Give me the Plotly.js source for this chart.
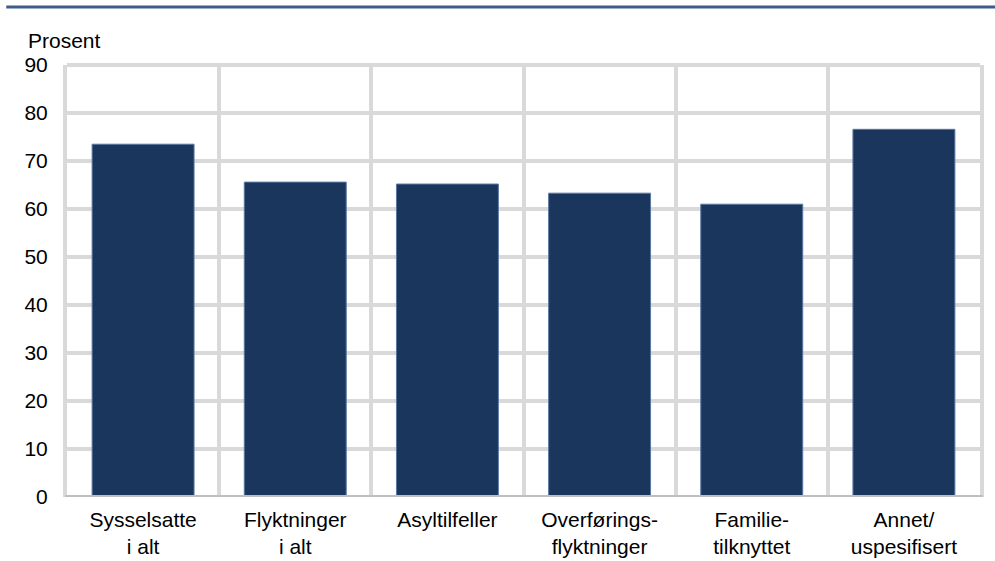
<!DOCTYPE html>
<html>
<head>
<meta charset="utf-8">
<script src="https://cdn.plot.ly/plotly-3.0.1.min.js"></script>
<style>html,body{margin:0;padding:0;background:#fff;}#chart{width:995px;height:561px;}</style>
</head>
<body>
<div id="chart"></div>
<script>
const categories = ["Sysselsatte<br>i alt", "Flyktninger<br>i alt", "Asyltilfeller", "Overførings-<br>flyktninger", "Familie-<br>tilknyttet", "Annet/<br>uspesifisert"];
const values = [73.5, 65.6, 65.2, 63.3, 61.0, 76.6];
const yTicks = [0, 10, 20, 30, 40, 50, 60, 70, 80, 90];
const yTitle = "Prosent";

const font = {family: "Liberation Sans, Arial, sans-serif", size: 21, color: "#000"};
const grid = "#d9d9d9";

Plotly.newPlot("chart", [{
  type: "bar",
  x: categories,
  y: values,
  marker: {color: "#1b365d", line: {color: "#5b78a3", width: 1}},
  hoverinfo: "none"
}], {
  width: 995, height: 561,
  margin: {l: 67, r: 15, t: 65, b: 64},
  paper_bgcolor: "#fff", plot_bgcolor: "#fff",
  font: font,
  showlegend: false,
  bargap: 0.33,
  xaxis: {
    type: "category",
    tickson: "boundaries",
    showgrid: true, gridcolor: grid, gridwidth: 4,
    ticks: "", ticklabelstandoff: 8,
    showline: false,
    zeroline: false,
    tickfont: font
  },
  yaxis: {
    range: [0, 90],
    tickvals: yTicks,
    showgrid: true, gridcolor: grid, gridwidth: 4,
    ticks: "", ticklabelstandoff: 11,
    showline: true, linecolor: grid, linewidth: 4, mirror: true,
    zeroline: false,
    tickfont: font
  },
  shapes: [
    {type: "line", xref: "paper", yref: "paper", x0: 0, x1: 1, y0: 1, y1: 1, line: {color: grid, width: 4}},
    {type: "line", xref: "paper", yref: "y", x0: -0.002, x1: 1.003, y0: 0, y1: 0, line: {color: "#bfbfbf", width: 4}},
    {type: "line", xref: "paper", yref: "paper", x0: -0.0665, x1: 1.0165, y0: 1.134, y1: 1.134, line: {color: "#3e5c8a", width: 3}}
  ],
  annotations: [
    {text: yTitle, xref: "paper", yref: "paper", x: -0.045, y: 1.025, xanchor: "left", yanchor: "bottom", showarrow: false, font: font}
  ]
}, {displayModeBar: false, staticPlot: true});
</script>
</body>
</html>
